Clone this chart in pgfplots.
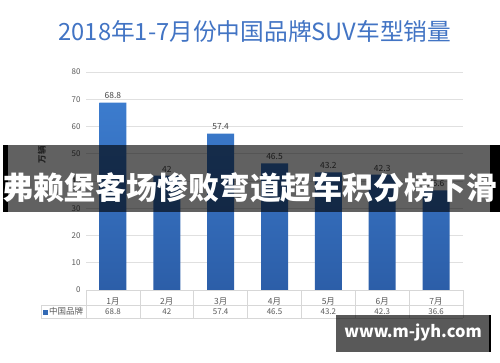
\documentclass[border=0pt]{standalone}
\usepackage{fontspec}
\setmainfont{Noto Sans CJK SC}
\usepackage{pgfplots}
\pgfplotsset{compat=1.18}
\definecolor{titleblue}{RGB}{66,116,196}
\definecolor{bartop}{RGB}{60,124,206}
\definecolor{barbot}{RGB}{44,94,168}
\definecolor{tickgray}{RGB}{89,89,89}
\definecolor{gridgray}{RGB}{224,224,224}
\definecolor{tablegray}{RGB}{215,215,215}
\definecolor{legblue}{RGB}{50,105,180}
\begin{document}
\begin{tikzpicture}[x=1bp,y=1bp]
\useasboundingbox (0,0) rectangle (500,362);
\fill[white] (0,0) rectangle (500,362);
\node[titleblue, font=\fontsize{23.8}{26}\selectfont] at (255,331) {2018年1-7月份中国品牌SUV车型销量};
\begin{axis}[
  at={(86bp,72bp)}, anchor=south west,
  scale only axis, width=377bp, height=218bp,
  ymin=0, ymax=80, xmin=-0.5, xmax=6.5,
  ytick={0,10,...,80},
  xtick=data,
  xticklabels={1月,2月,3月,4月,5月,6月,7月},
  ymajorgrids, grid style={gridgray, line width=0.7bp},
  axis line style={draw=none},
  major tick style={draw=none},
  /pgf/number format/assume math mode=true,
  yticklabel style={font=\fontsize{8}{9}\selectfont, text=tickgray, xshift=-2bp},
  xticklabel style={font=\fontsize{8.5}{9}\selectfont, text=tickgray, yshift=-0.5bp},
  ylabel={万辆},
  ylabel style={at={(axis description cs:-0.117,0.62)}, anchor=center, font=\fontsize{8.5}{9}\selectfont\bfseries, text=tickgray},
  clip=false,
  ybar, bar width=27bp,
  nodes near coords,
  nodes near coords style={font=\fontsize{8.5}{9}\selectfont, text=tickgray!80!black, /pgf/number format/fixed},
]
\addplot[draw=none, top color=bartop, bottom color=barbot] coordinates {
  (0,68.8) (1,42) (2,57.4) (3,46.5) (4,43.2) (5,42.3) (6,36.6)
};
\end{axis}
% data table under the axis
\begin{scope}[tablegray, line width=0.6bp]
  \draw (86,72) -- (463,72);
  \draw (41,57) -- (463,57);
  \draw (41,44) -- (463,44);
  \draw (41,57) -- (41,44);
  \foreach \k in {0,...,7} { \draw ({86+53.857*\k},72) -- ({86+53.857*\k},44); }
\end{scope}
\foreach \v [count=\i from 0] in {68.8,42,57.4,46.5,43.2,42.3,36.6} {
  \node[font=\fontsize{8}{9}\selectfont, text=tickgray] at ({86+53.857*(\i+0.5)},50.5) {\v};
}
\fill[legblue] (43,47.5) rectangle (48,52.5);
\node[anchor=west, inner sep=0pt, font=\fontsize{8.5}{9}\selectfont, text=tickgray] at (49,50.5) {中国品牌};
% overlay banner
\fill[black, opacity=0.62] (8,150) rectangle (490,217);
\fill[black] (3,150) rectangle (8,217);
\fill[black] (490,150) rectangle (500,217);
\node[white, font=\fontsize{31}{33}\selectfont\bfseries] at (250,174) {弗赖堡客场惨败弯道超车积分榜下滑};
% watermark box
\fill[black, opacity=0.65] (336,10) rectangle (489,47);
\fill[black] (489,10) rectangle (491,47);
\node[white, font=\fontsize{16.5}{18}\selectfont\bfseries] at (413,30) {www.m-jyh.com};
\end{tikzpicture}
\end{document}
